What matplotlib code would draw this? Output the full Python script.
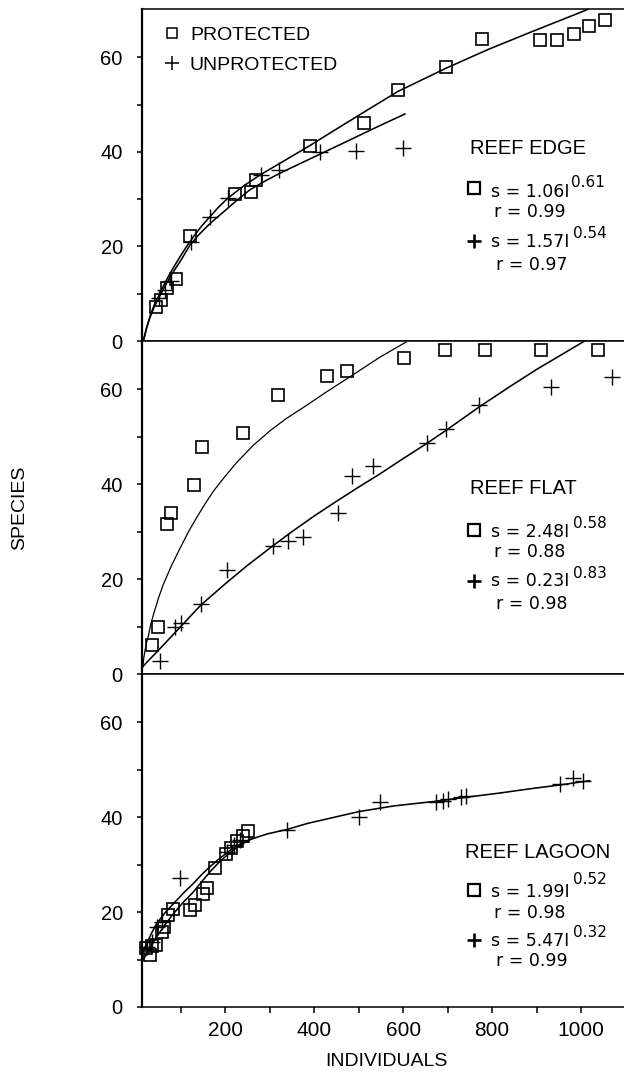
import matplotlib
matplotlib.use("Agg")
import matplotlib.pyplot as plt
from matplotlib.lines import Line2D

plt.rcParams["font.family"] = ["Liberation Sans", "DejaVu Sans"]
plt.rcParams["font.sans-serif"] = ["Liberation Sans", "DejaVu Sans"]

# ---- data ----
# reef edge
edge_prot_x = [45, 55, 69, 90, 121, 222, 258, 269, 390, 512, 589, 697, 778, 908, 946, 985, 1017, 1053]
edge_prot_y = [7.1, 8.7, 11.2, 13.1, 22.2, 31.1, 31.6, 34.1, 41.2, 46.0, 53.0, 57.9, 63.9, 63.6, 63.6, 65.0, 66.7, 67.9]
edge_unp_x = [51, 64, 78, 124, 165, 206, 280, 320, 413, 495, 600]
edge_unp_y = [9.0, 10.8, 12.6, 21.0, 26.2, 30.2, 35.2, 36.1, 39.9, 40.1, 40.8]
edge_fit1_x = [16, 23, 31, 40, 50, 63, 76, 88, 99, 114, 129, 147, 165, 185, 206, 243, 280, 338, 390, 436, 512, 589, 697, 790, 884, 1015]
edge_fit1_y = [0, 2.7, 5.2, 7.5, 9.4, 12.0, 14.3, 16.2, 17.9, 20.1, 22.1, 24.3, 26.2, 28.3, 30.2, 32.9, 35.2, 38.4, 41.3, 44.0, 48.4, 52.8, 57.7, 61.6, 65.2, 70.1]
edge_fit2_x = [16, 23, 31, 40, 50, 63, 76, 88, 100, 121, 140, 160, 180, 200, 228, 256, 293, 330, 413, 480, 540, 604]
edge_fit2_y = [0, 2.6, 5.0, 7.1, 9.0, 11.3, 13.5, 15.3, 17.0, 20.3, 22.4, 24.3, 26.0, 27.6, 29.9, 32.0, 34.0, 35.8, 39.5, 42.5, 45.2, 48.0]

# reef flat
flat_prot_x = [35, 50, 69, 78, 129, 147, 241, 318, 428, 474, 602, 695, 783, 909, 1038]
flat_prot_y = [6.1, 9.9, 31.7, 34.0, 39.9, 47.8, 50.8, 58.9, 62.8, 63.8, 66.7, 68.4, 68.4, 68.4, 68.4]
flat_unp_x = [54, 88, 100, 145, 204, 307, 342, 376, 454, 484, 533, 653, 697, 771, 932, 1069]
flat_unp_y = [2.8, 10.0, 10.8, 14.8, 21.9, 27.0, 28.1, 28.8, 33.9, 41.8, 43.9, 48.6, 51.7, 56.7, 60.6, 62.7]
flat_fit1_x = [15, 17, 22, 28, 33, 39, 50, 61, 80, 99, 117, 136, 155, 174, 200, 226, 263, 301, 338, 376, 425, 473, 548, 607]
flat_fit1_y = [1.5, 3.4, 6.1, 8.3, 10.6, 12.6, 16.0, 18.9, 23.0, 26.6, 29.9, 33.0, 35.9, 38.6, 41.7, 44.6, 48.2, 51.3, 53.9, 56.2, 59.3, 62.2, 66.8, 70.0]
flat_fit2_x = [15, 54, 100, 145, 200, 250, 307, 350, 400, 450, 500, 548, 600, 653, 697, 771, 840, 900, 1008]
flat_fit2_y = [1.6, 5.4, 10.0, 14.5, 19.0, 22.9, 27.0, 30.0, 33.3, 36.4, 39.4, 42.2, 45.4, 48.6, 51.4, 56.3, 60.6, 64.2, 70.2]

# reef lagoon
lag_prot_x = [22, 30, 35, 44, 58, 63, 71, 82, 120, 133, 150, 158, 177, 201, 214, 227, 240, 252]
lag_prot_y = [12.5, 11.0, 12.8, 13.0, 15.8, 16.8, 19.3, 20.6, 20.5, 21.6, 23.8, 25.0, 29.2, 32.2, 33.6, 35.0, 36.1, 37.1]
lag_unp_x = [24, 35, 46, 58, 99, 204, 219, 234, 338, 501, 548, 675, 690, 701, 731, 742, 953, 981, 1004]
lag_unp_y = [12.7, 13.7, 16.9, 18.0, 27.1, 32.7, 34.2, 35.2, 37.3, 40.0, 43.3, 43.3, 43.5, 43.8, 44.2, 44.5, 47.1, 48.3, 47.7]
lag_fit1_x = [14, 20, 33, 46, 65, 84, 106, 129, 147, 166, 190, 211, 233, 256, 295, 338, 385, 436, 501, 580, 667, 740, 817, 885, 952, 1019]
lag_fit1_y = [11.5, 12.7, 15.3, 17.6, 19.9, 21.8, 24.0, 26.1, 27.9, 29.6, 31.5, 33.0, 34.3, 35.3, 36.5, 37.4, 38.7, 39.8, 41.2, 42.4, 43.3, 44.2, 45.1, 46.0, 46.8, 47.7]
lag_fit2_x = [14, 20, 33, 46, 65, 84, 106, 129, 147, 166, 185, 204, 222, 241, 262]
lag_fit2_y = [10.0, 10.6, 12.8, 14.8, 17.4, 19.7, 22.1, 24.3, 26.4, 28.5, 30.4, 32.0, 33.3, 34.5, 35.6]

panel_titles = ["REEF EDGE", "REEF FLAT", "REEF LAGOON"]
prot_eq = ["s = 1.06I", "s = 2.48I", "s = 1.99I"]
prot_exp = ["0.61", "0.58", "0.52"]
prot_r = ["r = 0.99", "r = 0.88", "r = 0.98"]
unp_eq = ["s = 1.57I", "s = 0.23I", "s = 5.47I"]
unp_exp = ["0.54", "0.83", "0.32"]
unp_r = ["r = 0.97", "r = 0.98", "r = 0.99"]

y_ticks = [0, 10, 20, 30, 40, 50, 60]
y_ticklabels = ["0", "", "20", "", "40", "", "60"]
x_ticks = [100, 200, 300, 400, 500, 600, 700, 800, 900, 1000, 1100]
x_ticklabels = ["", "200", "", "400", "", "600", "", "800", "", "1000", ""]

panels = [
    (edge_prot_x, edge_prot_y, edge_unp_x, edge_unp_y, [(edge_fit1_x, edge_fit1_y), (edge_fit2_x, edge_fit2_y)]),
    (flat_prot_x, flat_prot_y, flat_unp_x, flat_unp_y, [(flat_fit1_x, flat_fit1_y), (flat_fit2_x, flat_fit2_y)]),
    (lag_prot_x, lag_prot_y, lag_unp_x, lag_unp_y, [(lag_fit1_x, lag_fit1_y), (lag_fit2_x, lag_fit2_y)]),
]

# ---- layout (pixels) ----
W, H = 624, 1073
fig = plt.figure(figsize=(W / 100, H / 100), dpi=100)


def fx(px):
    return px / W


def fy(py):
    return 1 - py / H


panel_px = [(9, 341), (341, 674), (674, 1007)]
# title (x, y), square y, eq1 baseline, exp1 (x, baseline), r1 baseline, plus y, eq2 baseline, exp2 (x, baseline), r2 baseline
text_pos = [
    dict(title=(470, 148), sq=188, eq1=197, e1=(571, 187), r1=217, pl=241, eq2=247, e2=(573, 238), r2=270),
    dict(title=(470, 488), sq=530, eq1=537, e1=(573, 528), r1=557, pl=581, eq2=586, e2=(573, 578), r2=609),
    dict(title=(465, 852), sq=890, eq1=897, e1=(573, 884), r1=918, pl=940, eq2=946, e2=(573, 937), r2=966),
]

left_px, right_px = 142, 630
eq_font = ["DejaVu Sans"]

for i, (px_, py_, ux, uy, fits) in enumerate(panels):
    top, bot = panel_px[i]
    ax = fig.add_axes([fx(left_px), fy(bot), fx(right_px) - fx(left_px), (bot - top) / H])
    ax.set_xlim(13, 1110)
    ax.set_ylim(0, 70.2)

    for k, (cx, cy) in enumerate(fits):
        lw = 0.9 if (i == 1 and k == 0) else 1.15
        ax.plot(cx, cy, "-", color="black", lw=lw, clip_on=False)
    ax.plot(px_, py_, "s", ms=8.6, mfc="none", mec="black", mew=1.2, clip_on=False)
    ax.plot(ux, uy, "+", ms=11, mec="black", mew=1.0, clip_on=False)

    ax.spines["right"].set_visible(False)
    ax.spines["left"].set_linewidth(1.6)
    ax.spines["top"].set_linewidth(1.1)
    ax.spines["bottom"].set_linewidth(1.1)

    ax.set_yticks(y_ticks)
    ax.set_yticklabels(y_ticklabels)
    ax.tick_params(axis="y", direction="out", length=3.8, width=1.1, pad=10, labelsize=14.5)

    if i < 2:
        ax.tick_params(axis="x", bottom=False, labelbottom=False)
    else:
        ax.set_xticks(x_ticks)
        ax.set_xticklabels(x_ticklabels)
        ax.tick_params(axis="x", direction="out", length=4.3, width=1.1, pad=6, labelsize=15)

    t = text_pos[i]
    fig.text(fx(t["title"][0]), fy(t["title"][1]), panel_titles[i], fontsize=14.5, ha="left", va="center")

    fig.add_artist(Line2D([fx(474)], [fy(t["sq"])], marker="s", ms=8.5, mfc="none", mec="black",
                          mew=1.6, transform=fig.transFigure))
    fig.text(fx(491), fy(t["eq1"]), prot_eq[i], fontsize=12.5, family=eq_font, ha="left", va="baseline")
    fig.text(fx(t["e1"][0]), fy(t["e1"][1]), prot_exp[i], fontsize=11, family=eq_font, ha="left", va="baseline")
    fig.text(fx(494), fy(t["r1"]), prot_r[i], fontsize=12.5, family=eq_font, ha="left", va="baseline")

    fig.add_artist(Line2D([fx(474)], [fy(t["pl"])], marker="+", ms=10, mec="black",
                          mew=1.9, transform=fig.transFigure))
    fig.text(fx(491), fy(t["eq2"]), unp_eq[i], fontsize=12.5, family=eq_font, ha="left", va="baseline")
    fig.text(fx(t["e2"][0]), fy(t["e2"][1]), unp_exp[i], fontsize=11, family=eq_font, ha="left", va="baseline")
    fig.text(fx(496), fy(t["r2"]), unp_r[i], fontsize=12.5, family=eq_font, ha="left", va="baseline")

# legend in the top panel
fig.add_artist(Line2D([fx(172)], [fy(33)], marker="s", ms=7.5, mfc="none", mec="black", mew=1.1,
                      transform=fig.transFigure))
fig.text(fx(190), fy(40), "PROTECTED", fontsize=14, ha="left", va="baseline")
fig.add_artist(Line2D([fx(172)], [fy(63)], marker="+", ms=10.5, mec="black", mew=1.1,
                      transform=fig.transFigure))
fig.text(fx(190), fy(70), "UNPROTECTED", fontsize=14, ha="left", va="baseline")

fig.text(fx(20), fy(508), "SPECIES", fontsize=14, rotation=90, ha="center", va="center")
fig.text(fx(386), fy(1062), "INDIVIDUALS", fontsize=14, ha="center", va="center")

fig.savefig("out.png", dpi=100)
